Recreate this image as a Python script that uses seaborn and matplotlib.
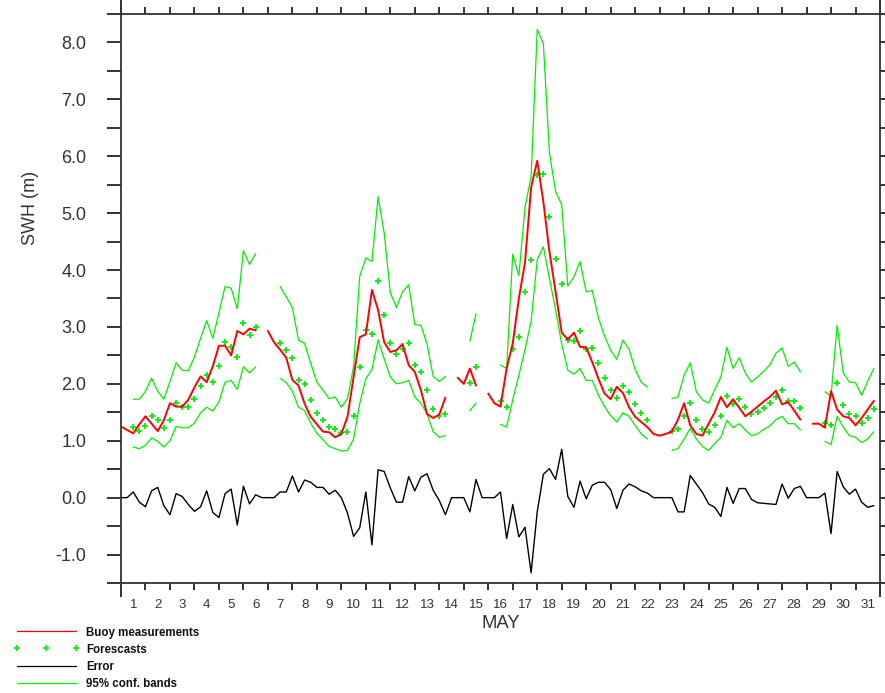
import numpy as np
import pandas as pd
import matplotlib
matplotlib.use("Agg")
import matplotlib.pyplot as plt
from matplotlib.lines import Line2D
import seaborn as sns

nan = np.nan

# ---------------- data (6-hourly, 1-31 May) ----------------
days = list(range(1, 32))
steps_per_day = 4

buoy = [1.25, 1.19, 1.13, 1.29, 1.43, 1.30, 1.17, 1.36, 1.66, 1.60, 1.60, 1.72,
        1.94, 2.13, 2.03, 2.31, 2.67, 2.67, 2.50, 2.93, 2.87, 2.97, 2.94, nan,
        2.93, 2.73, 2.60, 2.46, 2.07, 1.97, 1.65, 1.42, 1.29, 1.16, 1.15, 1.06,
        1.12, 1.42, 2.12, 2.82, 2.87, 3.65, 3.30, 2.73, 2.56, 2.59, 2.70, 2.33,
        2.21, 1.89, 1.47, 1.40, 1.46, 1.76, nan, 2.11, 2.00, 2.27, 1.97, nan,
        1.83, 1.66, 1.60, 2.27, 2.71, 3.50, 4.13, 5.45, 5.92, 5.20, 4.32, 3.62,
        2.90, 2.78, 2.90, 2.65, 2.64, 2.38, 2.09, 1.83, 1.73, 1.95, 1.84, 1.59,
        1.42, 1.33, 1.24, 1.12, 1.09, 1.12, 1.16, 1.37, 1.66, 1.27, 1.12, 1.09,
        1.30, 1.50, 1.77, 1.59, 1.73, 1.58, 1.43, 1.51, 1.60, 1.69, 1.77, 1.88,
        1.64, 1.68, 1.53, 1.37, nan, 1.30, 1.30, 1.23, 1.87, 1.55, 1.43, 1.40,
        1.27, 1.40, 1.55, 1.70]

forecast = [nan, nan, 1.24, 1.18, 1.26, 1.43, 1.36, 1.23, 1.36, 1.67, 1.60, 1.60,
            1.73, 1.97, 2.16, 2.04, 2.31, 2.73, 2.65, 2.47, 3.07, 2.85, 3.00, nan,
            nan, nan, 2.72, 2.59, 2.45, 2.07, 1.99, 1.72, 1.49, 1.36, 1.24, 1.21,
            1.13, 1.16, 1.43, 2.29, 2.95, 2.88, 3.81, 3.21, 2.72, 2.52, 2.61, 2.72,
            2.33, 2.20, 1.90, 1.55, 1.43, 1.47, nan, nan, nan, 2.02, 2.30, nan,
            nan, nan, 1.70, 1.60, 2.62, 2.82, 3.62, 4.17, 5.67, 5.68, 4.94, 4.19,
            3.75, 2.77, 2.75, 2.93, 2.62, 2.63, 2.37, 2.11, 1.89, 1.76, 1.97, 1.86,
            1.65, 1.49, 1.37, nan, nan, nan, 1.18, 1.20, 1.43, 1.66, 1.37, 1.21,
            1.15, 1.27, 1.43, 1.79, 1.64, 1.73, 1.59, 1.47, 1.50, 1.58, 1.66, 1.77,
            1.90, 1.70, 1.70, 1.57, nan, nan, nan, 1.32, 1.28, 2.01, 1.62, 1.47,
            1.43, 1.32, 1.40, 1.56]

upper = [nan, nan, 1.73, 1.73, 1.87, 2.10, 1.87, 1.73, 2.04, 2.37, 2.24, 2.23,
         2.47, 2.80, 3.11, 2.80, 3.25, 3.71, 3.68, 3.32, 4.34, 4.10, 4.29, nan,
         nan, nan, 3.71, 3.53, 3.34, 2.77, 2.71, 2.36, 2.03, 1.89, 1.74, 1.77,
         1.59, 1.74, 2.30, 3.89, 4.21, 4.15, 5.29, 4.65, 3.60, 3.34, 3.62, 3.74,
         3.04, 3.03, 2.70, 2.13, 2.04, 2.13, nan, nan, nan, 2.75, 3.23, nan,
         nan, nan, 2.33, 2.27, 4.28, 3.90, 5.10, 5.64, 8.23, 7.98, 6.06, 5.38,
         5.15, 3.72, 3.88, 4.15, 3.62, 3.64, 3.16, 2.84, 2.59, 2.43, 2.77, 2.61,
         2.25, 2.03, 1.94, nan, nan, nan, 1.74, 1.77, 2.15, 2.37, 1.86, 1.72,
         1.66, 1.90, 2.12, 2.64, 2.27, 2.46, 2.19, 2.03, 2.12, 2.22, 2.33, 2.54,
         2.63, 2.31, 2.38, 2.21, nan, nan, nan, 1.86, 1.79, 3.03, 2.19, 2.03,
         2.02, 1.80, 2.05, 2.27]

lower = [nan, nan, 0.89, 0.86, 0.92, 1.05, 0.99, 0.89, 1.00, 1.25, 1.23, 1.23,
         1.31, 1.49, 1.59, 1.52, 1.68, 2.03, 2.06, 1.90, 2.30, 2.19, 2.30, nan,
         nan, nan, 2.10, 2.02, 1.87, 1.59, 1.53, 1.31, 1.13, 1.02, 0.90, 0.86,
         0.82, 0.83, 1.03, 1.65, 2.09, 2.25, 2.77, 2.44, 2.12, 2.00, 2.02, 2.06,
         1.77, 1.66, 1.47, 1.16, 1.06, 1.09, nan, nan, nan, 1.53, 1.66, nan,
         nan, nan, 1.29, 1.24, 1.72, 2.15, 2.60, 3.10, 4.18, 4.41, 3.85, 3.30,
         2.70, 2.24, 2.17, 2.27, 2.06, 2.06, 1.80, 1.60, 1.44, 1.33, 1.49, 1.43,
         1.27, 1.12, 1.03, nan, nan, nan, 0.83, 0.86, 1.03, 1.22, 1.03, 0.90,
         0.83, 0.95, 1.06, 1.36, 1.23, 1.30, 1.19, 1.09, 1.12, 1.20, 1.26, 1.37,
         1.43, 1.30, 1.30, 1.19, nan, nan, nan, 0.99, 0.93, 1.43, 1.24, 1.09,
         1.06, 0.97, 1.03, 1.16]

error = [0.00, 0.00, 0.10, -0.08, -0.16, 0.12, 0.18, -0.14, -0.30, 0.07, 0.02, -0.12,
         -0.24, -0.16, 0.12, -0.26, -0.35, 0.07, 0.15, -0.48, 0.20, -0.11, 0.05, 0.00,
         0.00, 0.00, 0.10, 0.10, 0.38, 0.10, 0.31, 0.27, 0.18, 0.18, 0.06, 0.13,
         0.00, -0.27, -0.68, -0.53, 0.10, -0.83, 0.49, 0.46, 0.17, -0.08, -0.08, 0.37,
         0.12, 0.36, 0.42, 0.13, -0.05, -0.30, 0.00, 0.00, 0.00, -0.25, 0.32, 0.00,
         0.00, 0.00, 0.10, -0.72, -0.12, -0.69, -0.52, -1.32, -0.25, 0.41, 0.51, 0.32,
         0.85, 0.02, -0.17, 0.29, -0.02, 0.22, 0.27, 0.27, 0.14, -0.19, 0.13, 0.24,
         0.19, 0.12, 0.08, 0.00, 0.00, 0.00, 0.00, -0.25, -0.25, 0.39, 0.24, 0.09,
         -0.11, -0.17, -0.33, 0.18, -0.10, 0.16, 0.16, -0.03, -0.09, -0.10, -0.11, -0.12,
         0.24, -0.01, 0.16, 0.20, 0.00, 0.00, 0.00, 0.08, -0.63, 0.46, 0.19, 0.06,
         0.15, -0.08, -0.17, -0.14]

yticks_major = [-1, 0, 1, 2, 3, 4, 5, 6, 7, 8]
legend_labels = ["Buoy measurements", "Forescasts", "Error", "95% conf. bands"]

# ---------------- styling ----------------
sns.set_style("white")
plt.rcParams["font.family"] = ["Liberation Sans", "DejaVu Sans"]

RED = "#ff0000"
GREEN = "#00f000"
BLACK = "#000000"
TXT = "#333333"

time = np.arange(len(buoy)) / steps_per_day


def seg_frame(vals):
    v = np.asarray(vals, dtype=float)
    valid = ~np.isnan(v)
    seg = np.cumsum(~valid)
    df = pd.DataFrame({"t": time, "v": v, "seg": seg})
    return df[valid]


fig = plt.figure(figsize=(8.85, 6.93), dpi=100)
W, H = 885, 693
ax = fig.add_axes([121 / W, 110 / H, 759 / W, 569 / H])

for series in (upper, lower):
    sns.lineplot(data=seg_frame(series), x="t", y="v", units="seg",
                 estimator=None, color=GREEN, lw=0.9, ax=ax, legend=False)

fdf = seg_frame(forecast)
sns.scatterplot(data=fdf, x="t", y="v", marker="+", s=22, color=GREEN,
                linewidth=1.3, ax=ax, legend=False, zorder=3)

sns.lineplot(data=seg_frame(buoy), x="t", y="v", units="seg",
             estimator=None, color=RED, lw=1.4, ax=ax, legend=False, zorder=4)

sns.lineplot(data=seg_frame(error), x="t", y="v", units="seg",
             estimator=None, color=BLACK, lw=1.0, ax=ax, legend=False, zorder=4)

ax.set_xlim(0, 31)
ax.set_ylim(-1.5, 8.5)

# frame
for s in ax.spines.values():
    s.set_visible(True)
    s.set_color("#333333")
    s.set_linewidth(1.3)

# x ticks: day boundaries; corners are longer
ax.set_xticks([0, 31])
ax.set_xticks(list(range(1, 31)), minor=True)
ax.tick_params(axis="x", which="major", length=10, width=1.3, direction="out",
               top=True, bottom=True, labelbottom=False, labeltop=False,
               color="#222222")
ax.tick_params(axis="x", which="minor", length=5, width=1.3, direction="out",
               top=True, bottom=True, color="#222222")
xtr = ax.get_xaxis_transform()
for d in days:
    ax.text(d - 0.5, -0.0445, str(d), transform=xtr, ha="center",
            va="baseline", fontsize=9.6, color=TXT)

# y ticks
ax.set_yticks(yticks_major)
ax.set_yticklabels([f"{v:.1f}" for v in yticks_major])
ax.set_yticks([v + 0.5 for v in [-2] + yticks_major], minor=True)
ax.tick_params(axis="y", which="both", length=10, width=1.3, direction="out",
               left=True, right=True, labelleft=True, labelright=False,
               color="#222222")
ax.tick_params(axis="y", which="major", pad=15, labelsize=13, labelcolor=TXT)

ax.set_ylabel("SWH (m)", fontsize=13, color=TXT)
ax.yaxis.set_label_coords(-0.108, 0.66)
ax.set_xlabel("MAY", fontsize=13.3, color=TXT)
ax.xaxis.set_label_coords(0.5, -0.056)

# ---------------- legend (below, left) ----------------
def fy(py):
    return 1 - py / H

x0, x1, xt = 17 / W, 76 / W, 86 / W
line_y = [631, 648.3, 666, 682.7]
base_y = [636, 652.7, 670, 687]
fig.add_artist(Line2D([x0, x1], [fy(line_y[0])] * 2, color=RED, lw=0.9))
fig.add_artist(Line2D([17 / W, 46 / W, 76 / W], [fy(line_y[1])] * 3,
                      linestyle="none", marker="+", markersize=4.5,
                      markeredgewidth=1.2, color=GREEN))
fig.add_artist(Line2D([x0, x1], [fy(line_y[2])] * 2, color=BLACK, lw=0.9))
fig.add_artist(Line2D([x0, x1], [fy(line_y[3])] * 2, color=GREEN, lw=0.9))
for lab, by in zip(legend_labels, base_y):
    fig.text(xt, fy(by), lab, fontsize=8.3, fontweight="bold", color="#111111",
             va="baseline", ha="left")

fig.savefig("out.png", dpi=100)
